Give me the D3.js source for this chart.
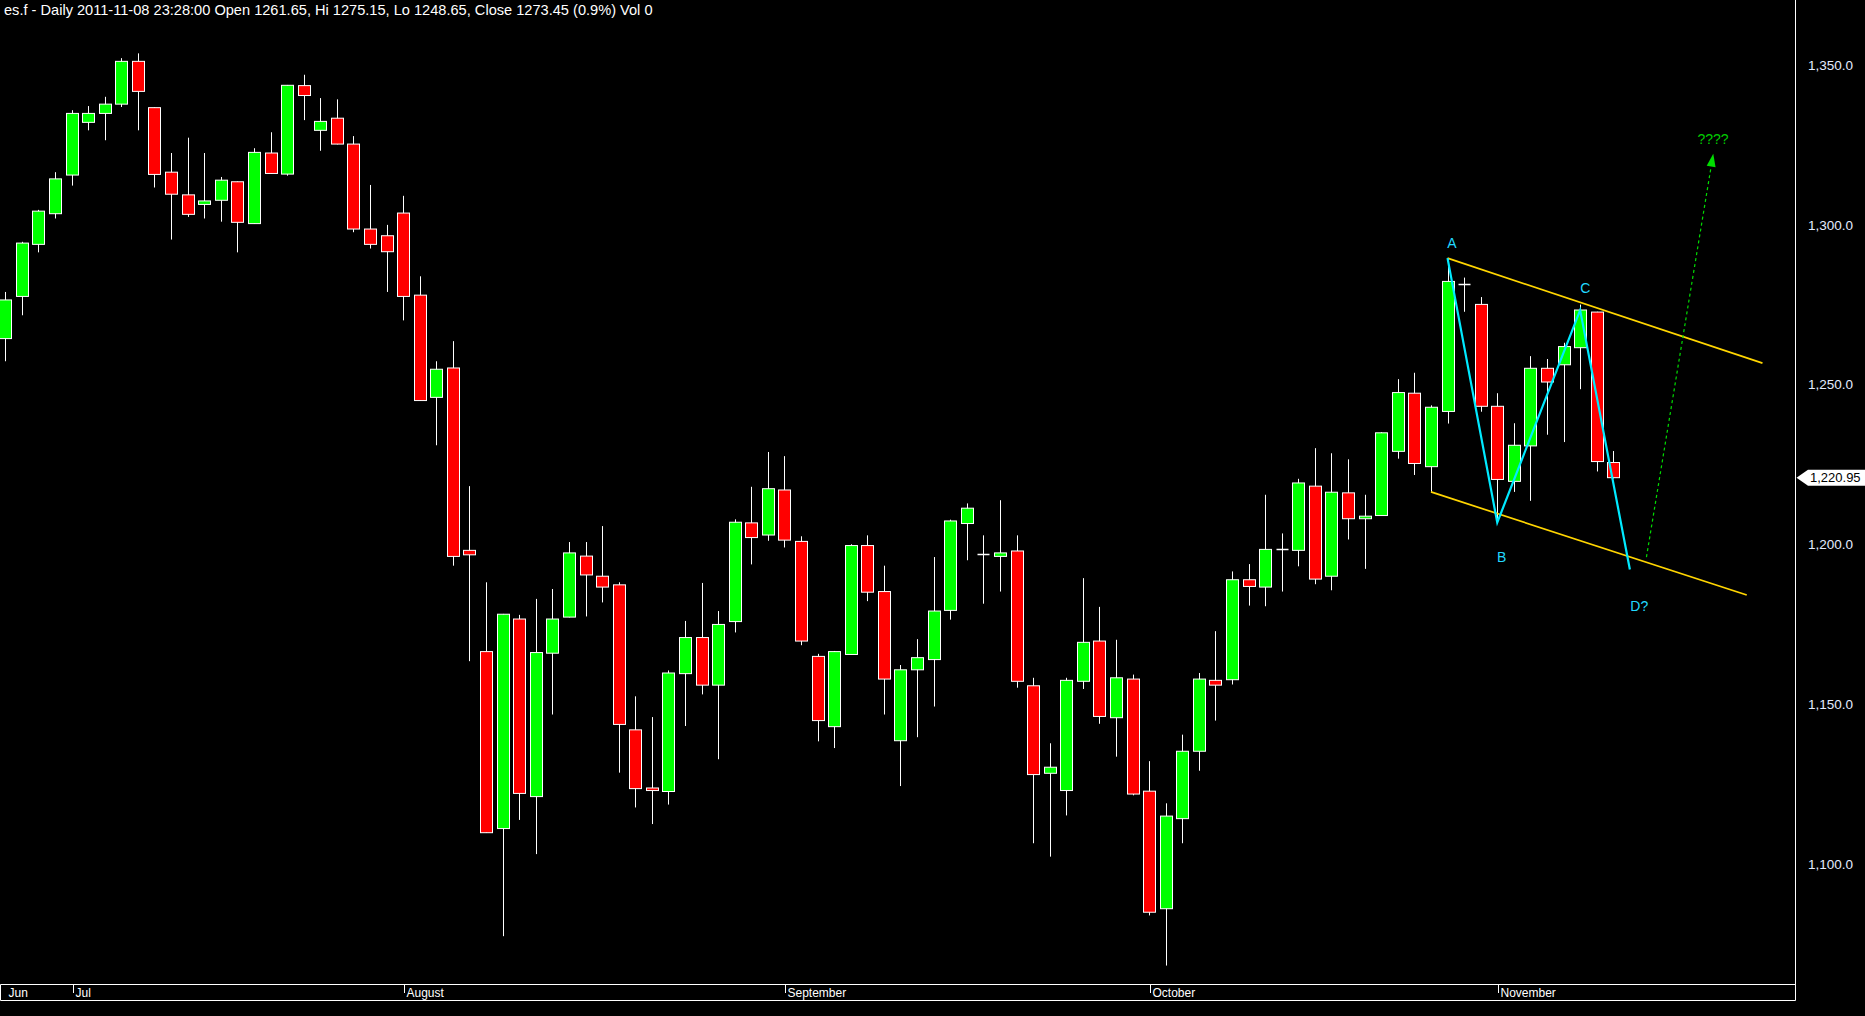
<!DOCTYPE html>
<html>
<head>
<meta charset="utf-8">
<script src="https://cdn.jsdelivr.net/npm/d3@7"></script>
<style>
  html, body { margin: 0; padding: 0; background: #000; overflow: hidden; }
  text { font-family: "Liberation Sans", Arial, sans-serif; }
  .date-lbl { font-family: "Liberation Sans Narrow", "Arial Narrow", "Liberation Sans", sans-serif; font-stretch: condensed; }
</style>
</head>
<body>
<div id="chart"></div>
<script>
// daily bars, es.f, end of June to Nov 2011
var opens = [
  1264.5, 1277.7, 1294.0, 1303.6, 1315.7, 1332.2, 1335.0, 1337.9, 1351.3, 1336.8,
  1316.6, 1309.5, 1306.5, 1307.8, 1313.6, 1300.5, 1322.6, 1316.0, 1343.7, 1329.7,
  1333.5, 1325.4, 1298.8, 1296.7, 1303.8, 1278.1, 1246.1, 1255.3, 1198.2, 1166.5,
  1111.1, 1176.7, 1121.1, 1166.0, 1177.3, 1196.4, 1190.1, 1187.4, 1142.0, 1123.8,
  1122.7, 1159.6, 1170.9, 1156.0, 1175.9, 1206.8, 1203.0, 1217.1, 1201.0, 1165.0,
  1143.0, 1165.6, 1199.7, 1185.3, 1138.6, 1160.8, 1164.0, 1179.4, 1206.6, 1197.2,
  1196.3, 1198.0, 1155.8, 1128.4, 1123.0, 1157.2, 1169.8, 1145.8, 1157.9, 1122.8,
  1086.0, 1114.2, 1135.3, 1157.5, 1157.7, 1189.0, 1186.7, 1198.7, 1198.2, 1218.3,
  1190.1, 1216.2, 1208.1, 1209.1, 1229.2, 1247.4, 1224.4, 1241.7, 1281.5, 1275.2,
  1243.3, 1219.8, 1230.9, 1255.2, 1256.3, 1261.65, 1272.8, 1225.7
];
var highs = [
  1279.1, 1294.8, 1304.8, 1316.6, 1336.0, 1337.3, 1340.2, 1352.3, 1353.8, 1336.9,
  1322.6, 1327.4, 1322.6, 1315.1, 1313.7, 1324.1, 1329.1, 1343.9, 1347.1, 1339.8,
  1339.4, 1327.9, 1312.6, 1300.1, 1309.2, 1284.0, 1257.4, 1263.7, 1218.3, 1188.2,
  1178.3, 1178.0, 1183.0, 1186.1, 1200.8, 1200.8, 1205.8, 1188.2, 1152.5, 1146.0,
  1160.6, 1176.1, 1188.0, 1179.2, 1207.9, 1218.1, 1229.0, 1227.7, 1202.6, 1165.8,
  1166.7, 1200.1, 1202.9, 1193.4, 1162.3, 1170.4, 1196.1, 1207.8, 1212.9, 1202.9,
  1213.9, 1202.9, 1158.3, 1137.8, 1158.3, 1189.5, 1180.5, 1170.2, 1159.3, 1132.2,
  1119.0, 1140.5, 1159.8, 1172.9, 1191.6, 1193.9, 1215.6, 1203.5, 1220.6, 1230.2,
  1228.6, 1226.7, 1215.6, 1235.2, 1251.8, 1253.8, 1243.6, 1289.7, 1283.6, 1277.5,
  1247.4, 1238.0, 1259.0, 1258.1, 1263.2, 1275.15, 1272.9, 1229.3
];
var lows = [
  1257.4, 1271.8, 1291.5, 1302.1, 1312.4, 1329.7, 1326.6, 1337.0, 1329.7, 1311.8,
  1295.5, 1302.6, 1302.1, 1301.1, 1291.5, 1300.4, 1316.1, 1315.5, 1332.9, 1323.3,
  1325.3, 1297.8, 1292.7, 1279.1, 1270.2, 1245.0, 1231.1, 1193.4, 1163.5, 1109.7,
  1077.4, 1113.8, 1103.1, 1146.8, 1177.2, 1177.5, 1181.9, 1128.6, 1117.7, 1112.5,
  1118.6, 1143.2, 1153.1, 1132.8, 1172.5, 1193.8, 1201.2, 1199.1, 1168.5, 1138.4,
  1136.3, 1165.5, 1182.3, 1146.8, 1124.4, 1139.7, 1149.3, 1176.5, 1195.1, 1181.5,
  1185.3, 1155.2, 1106.5, 1102.3, 1115.2, 1154.8, 1143.9, 1133.6, 1121.5, 1083.9,
  1068.2, 1106.5, 1129.2, 1144.9, 1156.2, 1180.9, 1180.7, 1185.3, 1193.2, 1187.6,
  1185.7, 1201.6, 1192.4, 1209.0, 1226.9, 1221.8, 1216.5, 1237.9, 1272.9, 1241.6,
  1207.3, 1216.5, 1213.7, 1234.4, 1232.1, 1248.65, 1222.9, 1220.7
];
var closes = [
  1276.6, 1294.4, 1304.4, 1314.5, 1335.0, 1335.0, 1337.9, 1351.3, 1341.9, 1315.9,
  1309.7, 1303.4, 1307.6, 1314.1, 1300.9, 1322.8, 1316.2, 1343.8, 1340.6, 1332.5,
  1325.4, 1298.8, 1294.0, 1291.7, 1277.7, 1245.1, 1254.9, 1196.3, 1196.8, 1109.8,
  1178.2, 1122.1, 1166.2, 1176.7, 1197.4, 1190.5, 1186.7, 1143.7, 1123.6, 1123.0,
  1159.8, 1170.9, 1156.0, 1175.0, 1207.0, 1202.2, 1217.5, 1201.4, 1169.8, 1144.9,
  1166.5, 1199.7, 1185.1, 1157.9, 1160.8, 1164.6, 1179.2, 1207.4, 1211.4, 1197.2,
  1197.4, 1157.2, 1128.0, 1130.3, 1157.5, 1169.4, 1146.2, 1158.3, 1121.9, 1084.9,
  1115.0, 1135.3, 1157.9, 1156.0, 1189.0, 1186.9, 1198.5, 1198.7, 1219.3, 1189.2,
  1216.4, 1208.1, 1208.9, 1235.0, 1247.6, 1225.4, 1243.0, 1282.4, 1281.5, 1243.3,
  1220.4, 1231.1, 1255.2, 1250.9, 1262.0, 1273.45, 1226.0, 1220.95
];

var monthLabels = ["Jun", "Jul", "August", "September", "October", "November"];
var monthIdx = [0, 4, 24, 47, 69, 90];
var priceTicks = [1100, 1150, 1200, 1250, 1300, 1350];
var lastPrice = 1220.95;
var header = "es.f - Daily 2011-11-08 23:28:00 Open 1261.65, Hi 1275.15, Lo 1248.65, Close 1273.45 (0.9%) Vol 0";

// drawn annotations, [bar index, price]
var upperChannel = [[87, 1289.7], [106, 1256.8]];
var lowerChannel = [[86, 1216.5], [105.05, 1184.2]];
var abcdPath = [[87, 1289.7], [90, 1206.9], [95, 1273.4], [98, 1192.2]];
var abcdNames = ["A", "B", "C", "D?"];
var abcdLabelPos = [[87.27, 1294.5], [90.27, 1196.1], [95.31, 1280.2], [98.57, 1180.7]];
var targetArrow = [[99.0, 1196.1], [103.03, 1322.4]];
var targetText = "????";
var targetTextPos = [103.02, 1326.9];

var W = 1865, H = 1016;
var plotRight = 1795.5, axisTop = 984, axisBottom = 1000.5;

var bars = opens.map(function(o, i) {
  return {i: i, o: o, h: highs[i], l: lows[i], c: closes[i]};
});

var x = d3.scaleLinear().domain([0, 97]).range([5.3, 1613.3]);
var y = d3.scaleLinear().domain([1100, 1350]).range([864, 65.5]);

var svg = d3.select("#chart").append("svg")
  .attr("width", W)
  .attr("height", H)
  .style("display", "block")
  .style("background", "#000");

var plot = svg.append("g");
plot.append("clipPath").attr("id", "clip")
  .append("rect").attr("x", 0).attr("y", 0).attr("width", plotRight).attr("height", axisTop);
var g = plot.append("g").attr("clip-path", "url(#clip)");

// wicks
g.selectAll(".wick").data(bars).enter().append("line")
  .attr("class", "wick")
  .attr("x1", d => Math.round(x(d.i)) + 0.5)
  .attr("x2", d => Math.round(x(d.i)) + 0.5)
  .attr("y1", d => y(d.h))
  .attr("y2", d => y(d.l))
  .attr("stroke", "#fff")
  .attr("stroke-width", 1);

var bw = 12;
// bodies (open == close gets a plain white dash)
g.selectAll(".body").data(bars.filter(d => d.o !== d.c)).enter().append("rect")
  .attr("class", "body")
  .attr("x", d => Math.round(x(d.i)) + 0.5 - bw / 2)
  .attr("y", d => y(Math.max(d.o, d.c)))
  .attr("width", bw)
  .attr("height", d => Math.max(1, Math.abs(y(d.o) - y(d.c))))
  .attr("fill", d => d.c > d.o ? "#00ff00" : "#ff0000")
  .attr("stroke", "#fff")
  .attr("stroke-width", 1);

g.selectAll(".doji").data(bars.filter(d => d.o === d.c)).enter().append("line")
  .attr("class", "doji")
  .attr("x1", d => Math.round(x(d.i)) + 0.5 - bw / 2)
  .attr("x2", d => Math.round(x(d.i)) + 0.5 + bw / 2)
  .attr("y1", d => Math.round(y(d.o)) + 0.5)
  .attr("y2", d => Math.round(y(d.o)) + 0.5)
  .attr("stroke", "#fff")
  .attr("stroke-width", 1.5);

// channel lines
var line = d3.line().x(d => x(d[0])).y(d => y(d[1]));
[upperChannel, lowerChannel].forEach(function(c) {
  g.append("path")
    .attr("d", line(c))
    .attr("fill", "none")
    .attr("stroke", "#ffd500")
    .attr("stroke-width", 1.7);
});

// A-B-C-D? zigzag
g.append("path")
  .attr("d", line(abcdPath))
  .attr("fill", "none")
  .attr("stroke", "#00eaff")
  .attr("stroke-width", 2.2);

g.selectAll(".abcd").data(abcdNames).enter().append("text")
  .attr("x", (d, i) => x(abcdLabelPos[i][0]))
  .attr("y", (d, i) => y(abcdLabelPos[i][1]))
  .attr("text-anchor", "middle")
  .attr("dominant-baseline", "central")
  .attr("fill", "#22d8ff")
  .style("font-size", "14px")
  .text(d => d);

// dotted target arrow
var ax0 = x(targetArrow[0][0]), ay0 = y(targetArrow[0][1]);
var ax1 = x(targetArrow[1][0]), ay1 = y(targetArrow[1][1]);
var ang = Math.atan2(ay1 - ay0, ax1 - ax0);
var headLen = 13, headW = 4.5;
var bx = ax1 - headLen * Math.cos(ang), by = ay1 - headLen * Math.sin(ang);
g.append("line")
  .attr("x1", ax0).attr("y1", ay0)
  .attr("x2", bx).attr("y2", by)
  .attr("stroke", "#00dd00")
  .attr("stroke-width", 1.2)
  .attr("stroke-dasharray", "3,3");
g.append("path")
  .attr("d", "M" + ax1 + "," + ay1 +
    "L" + (bx + headW * Math.sin(ang)) + "," + (by - headW * Math.cos(ang)) +
    "L" + (bx - headW * Math.sin(ang)) + "," + (by + headW * Math.cos(ang)) + "Z")
  .attr("fill", "#00dd00");
g.append("text")
  .attr("x", x(targetTextPos[0]))
  .attr("y", y(targetTextPos[1]))
  .attr("text-anchor", "middle")
  .attr("dominant-baseline", "central")
  .attr("fill", "#00cc00")
  .style("font-size", "14px")
  .text(targetText);

// frame
svg.append("line")
  .attr("x1", plotRight).attr("x2", plotRight)
  .attr("y1", 0).attr("y2", axisBottom)
  .attr("stroke", "#fff");
svg.append("path")
  .attr("d", "M" + plotRight + "," + (axisTop + 0.5) + "H0.5V" + axisBottom + "H" + plotRight)
  .attr("fill", "none")
  .attr("stroke", "#fff");

// date axis
var dates = svg.append("g");
monthLabels.forEach(function(m, k) {
  var tx = Math.round(x(monthIdx[k])) + 1.5;
  if (k > 0) {
    dates.append("line")
      .attr("x1", tx).attr("x2", tx)
      .attr("y1", axisTop).attr("y2", axisTop + 9)
      .attr("stroke", "#fff");
  }
  dates.append("text")
    .attr("class", "date-lbl")
    .attr("x", tx + 2)
    .attr("y", axisBottom - 3.5)
    .attr("fill", "#fff")
    .style("font-size", "12px")
    .text(m);
});

// price axis
var fmt = d3.format(",.1f");
svg.selectAll(".ptick").data(priceTicks).enter().append("text")
  .attr("x", 1808)
  .attr("y", d => y(d))
  .attr("dominant-baseline", "central")
  .attr("fill", "#e4ecff")
  .style("font-size", "13.5px")
  .text(d => fmt(d));

// last price marker
var ly = y(lastPrice);
svg.append("path")
  .attr("d", "M" + (plotRight + 1) + "," + ly + "L1808," + (ly - 8) + "H1865V" + (ly + 8) + "H1808Z")
  .attr("fill", "#fff");
svg.append("text")
  .attr("x", 1810)
  .attr("y", ly)
  .attr("dominant-baseline", "central")
  .attr("fill", "#000")
  .style("font-size", "13px")
  .text(d3.format(",.2f")(lastPrice));

// title
svg.append("text")
  .attr("x", 4)
  .attr("y", 14.5)
  .attr("fill", "#fff")
  .style("font-size", "14.6px")
  .text(header);
</script>
</body>
</html>
